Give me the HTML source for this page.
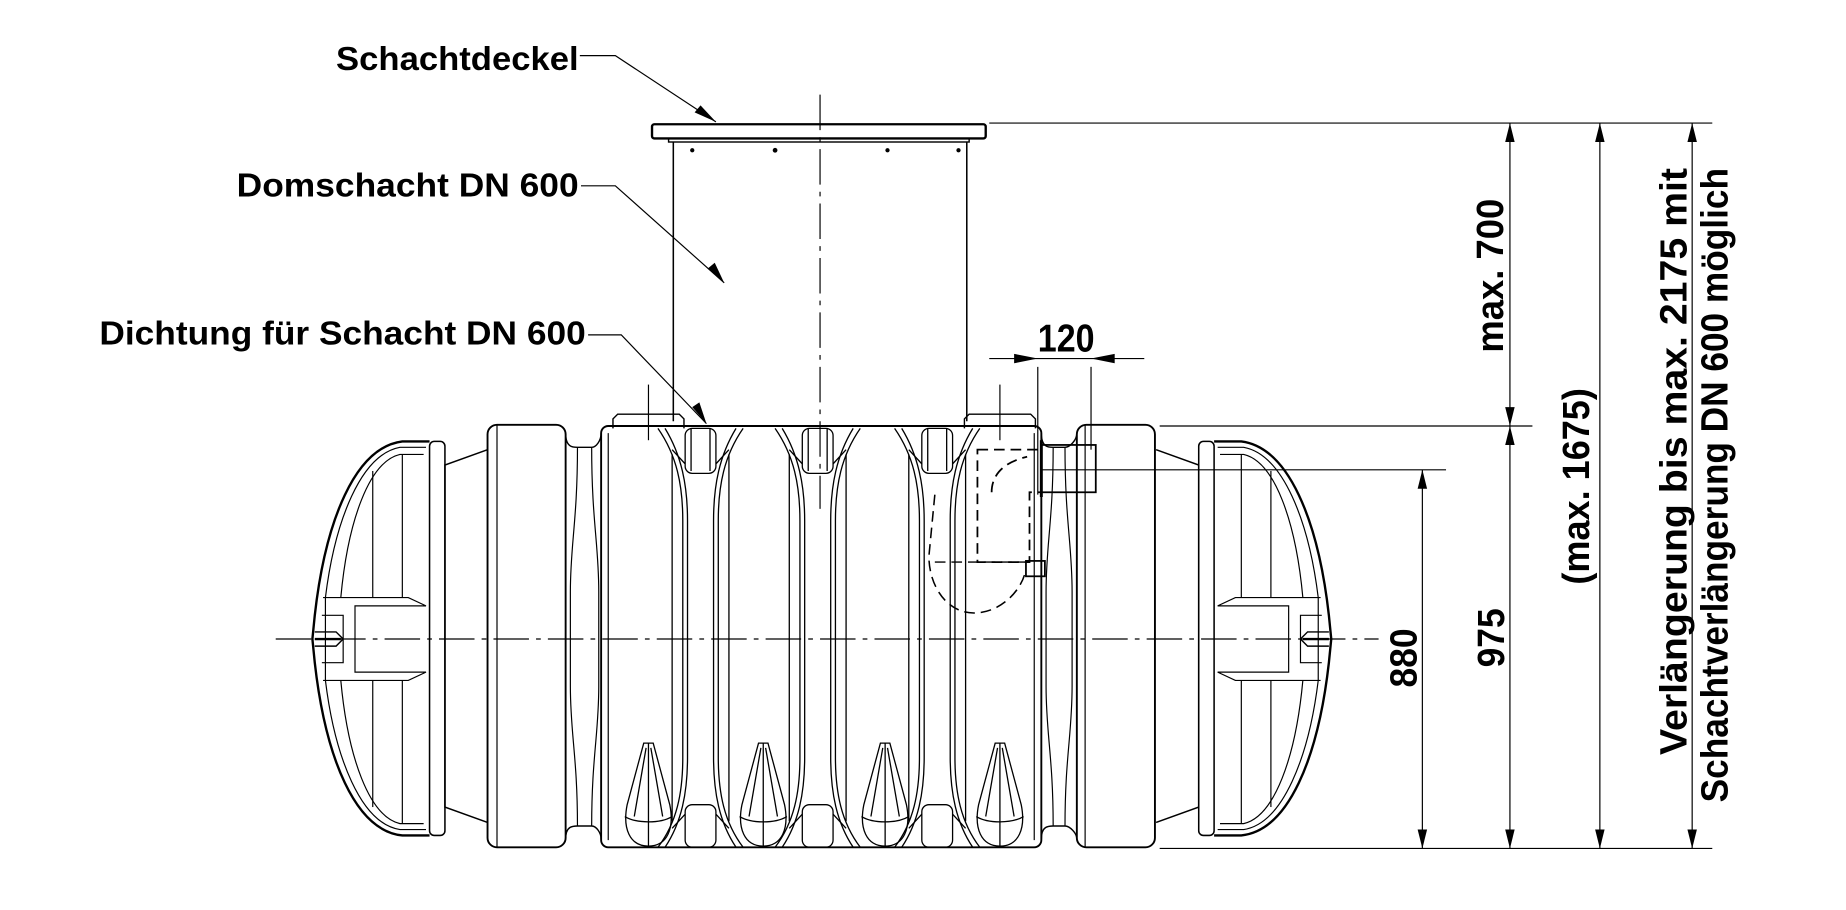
<!DOCTYPE html>
<html><head><meta charset="utf-8"><style>
html,body{margin:0;padding:0;background:#fff;}
svg{display:block;}
text{font-family:"Liberation Sans",Arial,sans-serif;font-weight:bold;fill:#000;}
</style></head><body>
<svg width="1846" height="910" viewBox="0 0 1560 769" preserveAspectRatio="none" xmlns="http://www.w3.org/2000/svg">
<defs>
<g id="cap" fill="none" stroke="#000">
  <path d="M412,380 L376,393 L376,682 L412,695" stroke-width="1.3"/>
  <rect x="363" y="373" width="13" height="333" rx="4" stroke-width="1.3"/>
  <path d="M363,373 L340,373 C300,378 275,440 266,520 L264,540 L266,560 C275,640 300,702 340,706 L363,706" stroke-width="2"/>
  <path d="M360,378 L338,378 C305,384 283,440 275,505 L275,575 C283,640 305,696 338,701 L360,701" stroke-width="1"/>
  <path d="M358,384 L338,384 C312,390 294,440 288,505 M288,575 C294,640 312,690 338,696 L358,696" stroke-width="1"/>
  <line x1="340" y1="384" x2="340" y2="505" stroke-width="1"/>
  <line x1="340" y1="575" x2="340" y2="696" stroke-width="1"/>
  <line x1="315" y1="398" x2="315" y2="505" stroke-width="1"/>
  <line x1="315" y1="575" x2="315" y2="682" stroke-width="1"/>
  <path d="M273,505 L345,505 L360,512 L300,512 L300,568 L360,568 L345,575 L273,575" stroke-width="1"/>
  <path d="M272,520 L290,520 L290,560 L272,560" stroke-width="1"/>
  <path d="M266,534 L284,534 L290,540 L284,546 L266,546" stroke-width="1.2"/>
  <line x1="266" y1="540" x2="288" y2="540" stroke-width="2"/>
</g>
<g id="cone" fill="none" stroke="#000" stroke-width="1.1">
  <path d="M-4,628 L4,628 L18,680 C22,700 16,715 0,715 C-16,715 -22,700 -18,680 Z"/>
  <path d="M-20,690 C-10,696 10,696 20,690"/>
  <line x1="0" y1="628" x2="0" y2="715"/>
  <path d="M-2,632 L-12,690 M2,632 L12,690"/>
</g>
<g id="boss" fill="none" stroke="#000" stroke-width="1.1">
  <rect x="-13" y="362" width="26" height="38" rx="6"/>
  <path d="M-8,362 L-8,398 M8,362 L8,398"/>
</g>
<g id="bossb" fill="none" stroke="#000" stroke-width="1.1">
  <rect x="-13" y="680" width="26" height="36" rx="6"/>
</g>
<g id="rib" fill="none" stroke="#000" stroke-width="1.1">
  <path d="M-36,362 C-20,385 -15,410 -15,440 L-15,640 C-15,670 -20,695 -36,716"/>
  <path d="M36,362 C20,385 15,410 15,440 L15,640 C15,670 20,695 36,716"/>
  <path d="M-30,362 C-16,385 -11,410 -11,440 L-11,640 C-11,670 -16,695 -30,716"/>
  <path d="M30,362 C16,385 11,410 11,440 L11,640 C11,670 16,695 30,716"/>
  <line x1="-24" y1="384" x2="-24" y2="694"/><line x1="24" y1="384" x2="24" y2="694"/>
  <path d="M-24,380 L-13,392 M24,380 L13,392 M-24,700 L-13,688 M24,700 L13,688"/>
</g>
</defs>

<line x1="693" y1="80" x2="693" y2="430" stroke="#000" stroke-width="1" stroke-dasharray="30,6,4,6"/>
<line x1="233" y1="540" x2="1165" y2="540" stroke="#000" stroke-width="1" stroke-dasharray="30,6,4,6"/>

<rect x="551" y="105" width="282" height="12" rx="2" fill="none" stroke="#000" stroke-width="2"/>
<rect x="565" y="117" width="254" height="3" fill="none" stroke="#000" stroke-width="1.2"/>
<line x1="569" y1="120" x2="569" y2="356" stroke="#000" stroke-width="1.3"/>
<line x1="817" y1="120" x2="817" y2="356" stroke="#000" stroke-width="1.3"/>
<circle cx="585" cy="127" r="1.8"/><circle cx="655" cy="127" r="2"/><circle cx="750" cy="127" r="1.8"/><circle cx="810" cy="127" r="1.8"/>

<path d="M518,362 L518,354 L522,350 L574,350 L578,354 L578,362" fill="none" stroke="#000" stroke-width="1.2"/>
<path d="M815,362 L815,354 L819,350 L871,350 L875,354 L875,362" fill="none" stroke="#000" stroke-width="1.2"/>
<line x1="548" y1="325" x2="548" y2="372" stroke="#000"/>
<line x1="845" y1="325" x2="845" y2="372" stroke="#000"/>

<rect x="412" y="359" width="66" height="357" rx="8" fill="none" stroke="#000" stroke-width="1.6"/>
<line x1="420" y1="359" x2="420" y2="716" stroke="#000" stroke-width="1"/>
<rect x="910" y="359" width="66" height="357" rx="8" fill="none" stroke="#000" stroke-width="1.6"/>
<line x1="917" y1="359" x2="917" y2="716" stroke="#000" stroke-width="1"/>
<path d="M478,366 C478,378 484,378 488,378 L500,378 C504,378 508,372 508,366 M478,709 C478,698 484,698 488,698 L500,698 C504,698 508,704 508,709" fill="none" stroke="#000" stroke-width="1.2"/>
<path d="M488,378 C488,440 482,460 482,500 L482,580 C482,620 488,640 488,698 M500,378 C500,440 506,460 506,500 L506,580 C506,620 500,640 500,698" fill="none" stroke="#000" stroke-width="1"/>
<path d="M880,366 C880,378 886,378 890,378 L900,378 C904,378 910,372 910,366 M880,709 C880,698 886,698 890,698 L900,698 C904,698 910,704 910,709" fill="none" stroke="#000" stroke-width="1.2"/>
<path d="M890,378 C890,440 884,460 884,500 L884,580 C884,620 890,640 890,698 M900,378 C900,440 906,460 906,500 L906,580 C906,620 900,640 900,698" fill="none" stroke="#000" stroke-width="1"/>

<use href="#cap"/>
<use href="#cap" transform="translate(1389,0) scale(-1,1)"/>

<rect x="508" y="360" width="372" height="356" rx="6" fill="none" stroke="#000" stroke-width="1.6"/>
<line x1="514" y1="366" x2="514" y2="710" stroke="#000" stroke-width="1"/>
<line x1="874" y1="366" x2="874" y2="710" stroke="#000" stroke-width="1"/>
<use href="#rib" x="592"/>
<use href="#rib" x="691"/>
<use href="#rib" x="792"/>
<use href="#boss" x="592"/><use href="#boss" x="691"/><use href="#boss" x="792"/>
<use href="#bossb" x="592"/><use href="#bossb" x="691"/><use href="#bossb" x="792"/>
<use href="#cone" x="548"/><use href="#cone" x="645"/><use href="#cone" x="748"/><use href="#cone" x="845"/>

<g fill="none" stroke="#000" stroke-width="1.5" stroke-dasharray="9,5">
<path d="M826,380 L880,380 L880,416 L870,416 L870,475 L826,475 Z"/>
<path d="M838,416 C838,400 850,390 868,386"/>
<path d="M790,418 L785,470 C785,495 800,518 823,518 C845,518 862,500 866,485" stroke-width="1.3"/>
<line x1="790" y1="475" x2="870" y2="475" stroke-width="1.2"/>
</g>
<rect x="880" y="376" width="46" height="40" fill="none" stroke="#000" stroke-width="1.5"/>
<rect x="867" y="474" width="16" height="13" fill="none" stroke="#000" stroke-width="1.5"/>
<line x1="880" y1="372" x2="880" y2="420" stroke="#000" stroke-width="2.5"/>

<g stroke="#000" stroke-width="1">
<line x1="836" y1="104" x2="1447" y2="104"/>
<line x1="980" y1="360" x2="1295" y2="360"/>
<line x1="880" y1="397" x2="1222" y2="397"/>
<line x1="980" y1="717" x2="1447" y2="717"/>
<line x1="1202" y1="397" x2="1202" y2="717"/>
<line x1="1276" y1="104" x2="1276" y2="717"/>
<line x1="1352" y1="104" x2="1352" y2="717"/>
<line x1="1430" y1="104" x2="1430" y2="717"/>
<line x1="836" y1="303" x2="967" y2="303"/>
<line x1="877" y1="310" x2="877" y2="418"/>
<line x1="922" y1="310" x2="922" y2="380"/>
</g>
<g fill="#000">
<path d="M1202,397 l-4,16 l8,0 z"/><path d="M1202,717 l-4,-16 l8,0 z"/>
<path d="M1276,104 l-4,16 l8,0 z"/><path d="M1276,360 l-4,-16 l8,0 z"/>
<path d="M1276,360 l-4,16 l8,0 z"/><path d="M1276,717 l-4,-16 l8,0 z"/>
<path d="M1352,104 l-4,16 l8,0 z"/><path d="M1352,717 l-4,-16 l8,0 z"/>
<path d="M1430,104 l-4,16 l8,0 z"/><path d="M1430,717 l-4,-16 l8,0 z"/>
<path d="M877,303 l-20,-4 l0,8 z"/><path d="M922,303 l20,-4 l0,8 z"/>
</g>

<g stroke="#000" stroke-width="1" fill="none">
<polyline points="490,47 520,47 605,103"/>
<polyline points="491,157 520,157 612,239"/>
<polyline points="497,283 525,283 597,358"/>
</g>
<g fill="#000">
<path d="M605,103 l-18,-8 l5,-6 z"/>
<path d="M612,239 l-14,-12 l6,-5 z"/>
<path d="M597,358 l-12,-14 l6,-4 z"/>
</g>

<text x="284" y="59" font-size="28" textLength="205" lengthAdjust="spacingAndGlyphs">Schachtdeckel</text>
<text x="200" y="166" font-size="28" textLength="289" lengthAdjust="spacingAndGlyphs">Domschacht DN 600</text>
<text x="84" y="291" font-size="28" textLength="411" lengthAdjust="spacingAndGlyphs">Dichtung für Schacht DN 600</text>
<text x="877" y="297" font-size="33" textLength="48" lengthAdjust="spacingAndGlyphs">120</text>

<text transform="translate(1270,298) rotate(-90)" font-size="32" textLength="130" lengthAdjust="spacingAndGlyphs">max. 700</text>
<text transform="translate(1271,564) rotate(-90)" font-size="32" textLength="50" lengthAdjust="spacingAndGlyphs">975</text>
<text transform="translate(1197,581) rotate(-90)" font-size="32" textLength="50" lengthAdjust="spacingAndGlyphs">880</text>
<text transform="translate(1343,494) rotate(-90)" font-size="32" textLength="166" lengthAdjust="spacingAndGlyphs">(max. 1675)</text>
<text transform="translate(1425,638) rotate(-90)" font-size="32" textLength="496" lengthAdjust="spacingAndGlyphs">Verlängerung bis max. 2175 mit</text>
<text transform="translate(1460,678) rotate(-90)" font-size="32" textLength="536" lengthAdjust="spacingAndGlyphs">Schachtverlängerung DN 600 möglich</text>
</svg>
</body></html>
